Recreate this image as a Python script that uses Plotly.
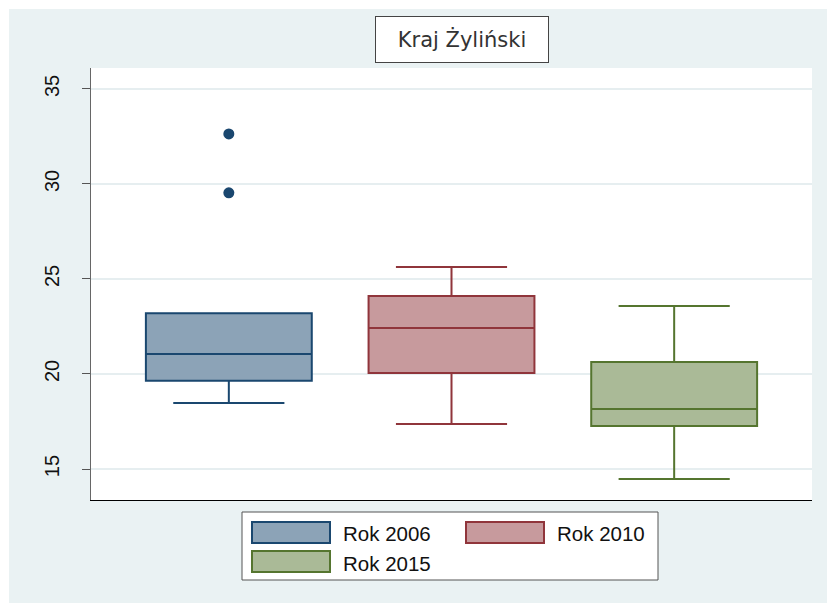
import plotly.graph_objects as go

# Box statistics per year
years = ["Rok 2006", "Rok 2010", "Rok 2015"]
positions = [1, 2, 3]
q1 = [19.65, 20.05, 17.26]
median = [21.05, 22.42, 18.16]
q3 = [23.2, 24.1, 20.63]
lower_fence = [18.47, 17.37, 14.47]
upper_fence = [23.2, 25.63, 23.58]

# Outliers (Rok 2006 only)
outlier_x = [1, 1]
outlier_y = [32.63, 29.53]

line_colors = ["#1a476f", "#90353b", "#55752f"]
fill_colors = ["#8ca3b7", "#c79a9d", "#aaba97"]

W, H = 827, 603
L, R, T, B = 91, 15, 68, 103
PW, PH = W - L - R, H - T - B


def px(x):
    return (x - L) / PW


def py(y):
    return 1 - (y - T) / PH


fig = go.Figure()
for i in range(3):
    fig.add_trace(go.Box(
        x=[positions[i]], q1=[q1[i]], median=[median[i]], q3=[q3[i]],
        lowerfence=[lower_fence[i]], upperfence=[upper_fence[i]],
        width=0.745, whiskerwidth=0.67, boxpoints=False,
        fillcolor=fill_colors[i], line=dict(color=line_colors[i], width=2),
        name=years[i], showlegend=False,
    ))

fig.add_trace(go.Scatter(
    x=outlier_x, y=outlier_y, mode="markers",
    marker=dict(color=line_colors[0], size=11), showlegend=False,
))

shapes = [
    # white strips at top and left edge
    dict(type="rect", xref="paper", yref="paper", x0=px(0), x1=px(W), y0=py(9), y1=py(0),
         fillcolor="white", line=dict(width=0), layer="below"),
    dict(type="rect", xref="paper", yref="paper", x0=px(0), x1=px(9), y0=py(H), y1=py(0),
         fillcolor="white", line=dict(width=0), layer="below"),
    # legend frame
    dict(type="rect", xref="paper", yref="paper", x0=px(242), x1=px(658), y0=py(580), y1=py(512),
         fillcolor="white", line=dict(color="#555555", width=1)),
]
annotations = [
    dict(text="Kraj Żyliński", xref="paper", yref="paper", x=px(462), y=py(40),
         xanchor="center", yanchor="middle", showarrow=False,
         font=dict(family="DejaVu Sans", size=21, color="#333333"),
         bgcolor="white", bordercolor="#444444", borderwidth=1,
         borderpad=10, width=152),
]

legend_items = [
    (252, 522, 343, 533),
    (466, 522, 557, 533),
    (252, 551, 343, 563),
]
for i, (sx, sy, tx, ty) in enumerate(legend_items):
    shapes.append(dict(type="rect", xref="paper", yref="paper",
                       x0=px(sx), x1=px(sx + 78), y0=py(sy + 21), y1=py(sy),
                       fillcolor=fill_colors[i], line=dict(color=line_colors[i], width=2)))
    annotations.append(dict(text=years[i], xref="paper", yref="paper", x=px(tx - 2), y=py(ty),
                            xanchor="left", yanchor="middle", showarrow=False,
                            font=dict(family="Liberation Sans", size=20.5, color="#111111")))

fig.update_layout(
    width=W, height=H, autosize=False,
    margin=dict(l=L, r=R, t=T, b=B, pad=0),
    paper_bgcolor="#eaf2f3", plot_bgcolor="white",
    shapes=shapes, annotations=annotations, showlegend=False,
)
fig.update_xaxes(range=[0.381, 3.619], showticklabels=False, showgrid=False, zeroline=False,
                 showline=True, linecolor="#000000", linewidth=1, ticks="")
fig.update_yaxes(range=[13.37, 36.1], tickvals=[15, 20, 25, 30, 35], tickangle=-90,
                 ticks="outside", ticklen=8, tickcolor="#555555", showline=True,
                 linecolor="#666666", linewidth=1, showgrid=True, gridcolor="#e6eef0",
                 gridwidth=1.5, zeroline=False, ticklabelstandoff=15,
                 tickfont=dict(family="Liberation Sans", size=20, color="#111111"))

fig.write_html("out.html")
